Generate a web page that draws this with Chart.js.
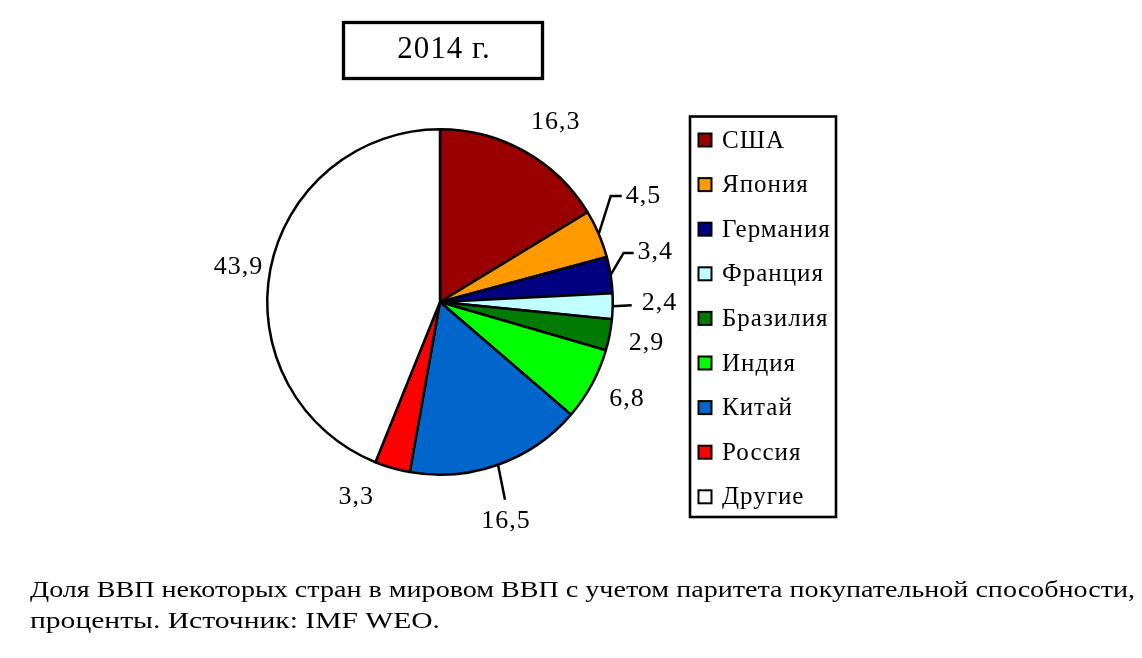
<!DOCTYPE html>
<html><head><meta charset="utf-8">
<script src="https://cdn.jsdelivr.net/npm/chart.js@4"></script>
<style>html,body{margin:0;padding:0;background:#fff;overflow:hidden}</style>
</head><body>
<canvas id="c" width="1142" height="658"></canvas>
<script>
const titleText = '2014 г.';
const categories = ['США','Япония','Германия','Франция','Бразилия','Индия','Китай','Россия','Другие'];
const shares = [16.3, 4.5, 3.4, 2.4, 2.9, 6.8, 16.5, 3.3, 43.9];
const captionLines = [
  'Доля ВВП некоторых стран в мировом ВВП с учетом паритета покупательной способности,',
  'проценты. Источник: IMF WEO.'
];
const sliceColors = ['#990000','#FF9900','#000080','#BFFFFF','#007A00','#00FF00','#0066CC','#FF0000','#FFFFFF'];

const FONT = '"Liberation Serif","Times New Roman",serif';
// label placement relative to the slice's outer edge point at mid-angle (style only)
const labelLayout = [
  {dx:31, dy:-29, align:'center'},
  {dx:27, dy:-38, align:'left', leader:[[12,-38],[23,-38]]},
  {dx:27, dy:-23, align:'left', leader:[[13,-22],[23,-22]]},
  {dx:29, dy:-3, align:'left', leader:[[19,-1]]},
  {dx:37, dy:8, align:'center'},
  {dx:35, dy:15, align:'center'},
  {dx:8, dy:56, align:'center', leader:[[7,35]]},
  {dx:-36, dy:29, align:'center'},
  {dx:-32, dy:-2, align:'center'}
];
const captionWidths = [1105, 410];

const decor = {
  id:'decor',
  afterDraw(chart){
    const ctx = chart.ctx;
    ctx.save();
    // title box
    ctx.strokeStyle = '#000'; ctx.lineWidth = 3.3;
    ctx.strokeRect(343.5, 22.5, 199, 56);
    ctx.fillStyle = '#000';
    ctx.font = '31px ' + FONT;
    ctx.letterSpacing = '1px';
    ctx.textAlign = 'center'; ctx.textBaseline = 'middle';
    ctx.fillText(titleText, 444, 50);

    // legend
    ctx.lineWidth = 2.6;
    ctx.strokeRect(690, 116.5, 146, 400.5);
    ctx.font = '25px ' + FONT;
    ctx.letterSpacing = '1px';
    ctx.textAlign = 'left';
    categories.forEach((name, i) => {
      const y = 140 + i * 44.6;
      ctx.fillStyle = sliceColors[i];
      ctx.fillRect(698.5, y - 6.5, 13, 13);
      ctx.lineWidth = 2;
      ctx.strokeStyle = '#000';
      ctx.strokeRect(698.5, y - 6.5, 13, 13);
      ctx.fillStyle = '#000';
      ctx.fillText(name, 722, y + 1);
    });

    // value labels
    const meta = chart.getDatasetMeta(0);
    ctx.font = '26px ' + FONT;
    ctx.letterSpacing = '1px';
    ctx.lineWidth = 2.5;
    meta.data.forEach((arc, i) => {
      const p = arc.getProps(['x','y','startAngle','endAngle','outerRadius'], true);
      const mid = (p.startAngle + p.endAngle) / 2;
      const ex = p.x + Math.cos(mid) * p.outerRadius;
      const ey = p.y + Math.sin(mid) * p.outerRadius;
      const L = labelLayout[i];
      if (L.leader) {
        ctx.beginPath(); ctx.moveTo(ex, ey);
        L.leader.forEach(([dx, dy]) => ctx.lineTo(ex + dx, ey + dy));
        ctx.stroke();
      }
      ctx.textAlign = L.align;
      ctx.textBaseline = 'middle';
      ctx.fillStyle = '#000';
      ctx.fillText(shares[i].toFixed(1).replace('.', ','), ex + L.dx, ey + L.dy);
    });

    // caption
    ctx.font = '24px ' + FONT;
    ctx.letterSpacing = '0px';
    ctx.textAlign = 'left'; ctx.textBaseline = 'alphabetic';
    const baselines = [597, 628];
    captionLines.forEach((line, i) => {
      const w = ctx.measureText(line).width;
      ctx.save();
      ctx.translate(30, 0);
      ctx.scale(captionWidths[i] / w, 1);
      ctx.fillText(line, 0, baselines[i]);
      ctx.restore();
    });
    ctx.restore();
  }
};

new Chart(document.getElementById('c'), {
  type: 'pie',
  data: {
    labels: categories,
    datasets: [{
      data: shares,
      backgroundColor: sliceColors,
      borderColor: '#000',
      borderWidth: 2.5
    }]
  },
  options: {
    responsive: false,
    animation: false,
    layout: { padding: { left: 266, right: 528, top: 128, bottom: 182 } },
    plugins: { legend: { display: false }, tooltip: { enabled: false } }
  },
  plugins: [decor]
});
</script>
</body></html>
